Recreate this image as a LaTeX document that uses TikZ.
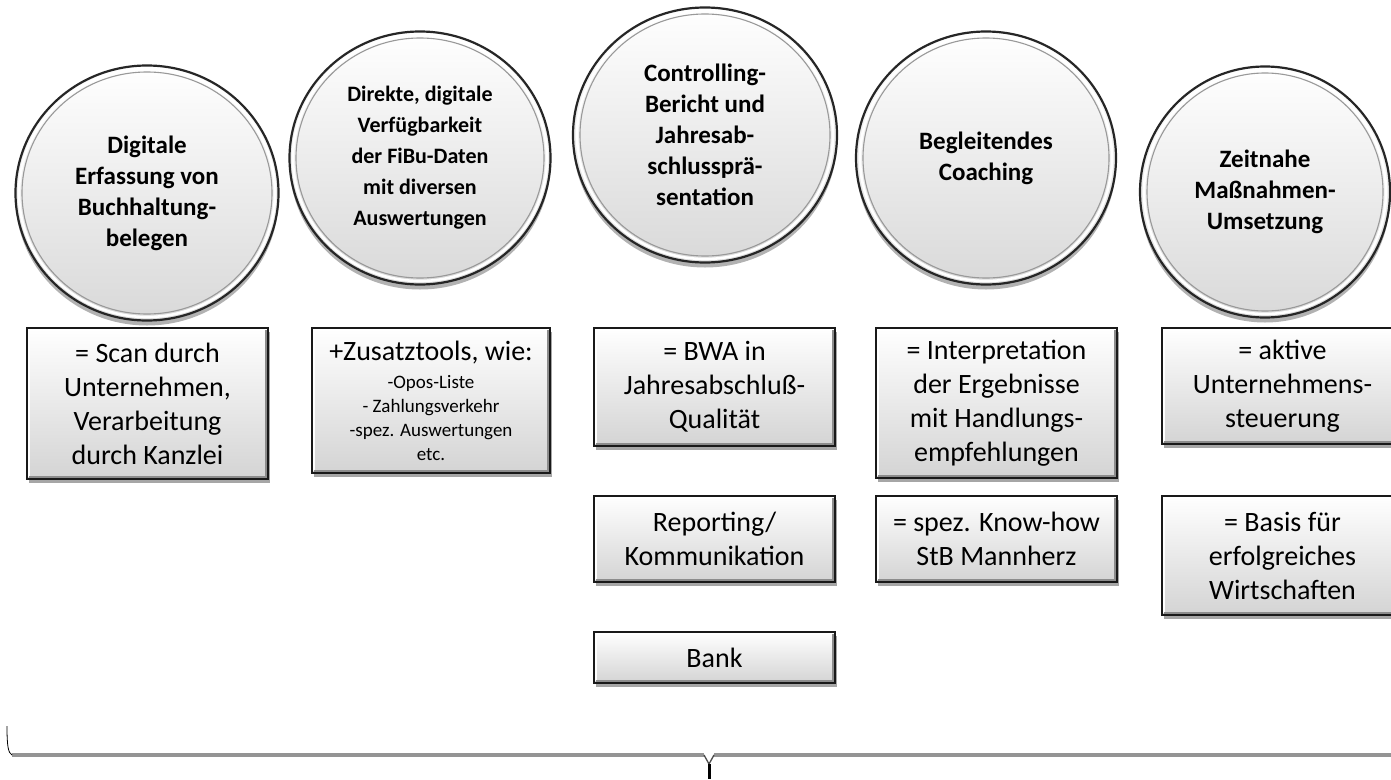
\documentclass[tikz,border=0pt]{standalone}
\usepackage{fontspec}
\setmainfont{Carlito}
\usetikzlibrary{shapes.geometric,shadows,calc}
\tikzset{
  circ/.style={ellipse, inner sep=0pt, draw=black!85, line width=2.2pt,
    top color=white, bottom color=black!15, align=center,
    font=\bfseries\fontsize{25}{31}\selectfont,
    drop shadow={shadow xshift=0pt, shadow yshift=-5pt, opacity=0.3, fill=black}},
  boxnode/.style={rectangle, draw=black!90, line width=2.4pt,
    top color=white, bottom color=black!17, minimum width=241pt,
    align=center, inner sep=0pt, font=\fontsize{28}{34}\selectfont,
    drop shadow={shadow xshift=2pt, shadow yshift=-4pt, opacity=0.35, fill=black}},
  ringwhite/.style={white, line width=2.6pt},
  ringgray/.style={black!40, line width=1.1pt},
  bevdark/.style={black!45, line width=1.6pt},
  bevlight/.style={white, line width=1.6pt},
  bracegray/.style={black!42, line width=3.3pt},
  braceblack/.style={black, line width=0.8pt}
}
\begin{document}
\begin{tikzpicture}[x=1pt,y=-1pt]
\useasboundingbox (0,0) rectangle (1391,779);
\fill[white] (0,0) rectangle (1391,779);

% circles
\node[circ, minimum width=263pt, minimum height=255pt] (c1) at (147,193)
  {Digitale\\Erfassung von\\Buchhaltung-\\belegen};
\node[circ, minimum width=261pt, minimum height=253pt,
      font=\bfseries\fontsize{22}{31}\selectfont] (c2) at (420,158)
  {Direkte, digitale\\Verfügbarkeit\\der FiBu-Daten\\mit diversen\\Auswertungen};
\node[circ, minimum width=264pt, minimum height=255pt] (c3) at (705,135)
  {Controlling-\\Bericht und\\Jahresab-\\schlussprä-\\sentation};
\node[circ, minimum width=260pt, minimum height=253pt] (c4) at (986,158)
  {Begleitendes\\Coaching};
\node[circ, minimum width=250pt, minimum height=251pt] (c5) at (1265,192)
  {Zeitnahe\\Maßnahmen-\\Umsetzung};

\foreach \n/\rx/\ry in {c1/125/121, c2/124/120, c3/125/121, c4/123/120, c5/118/119}{
  \draw[ringwhite] (\n.center) ellipse [x radius=\rx pt+3pt, y radius=\ry pt+3pt];
  \draw[ringgray] (\n.center) ellipse [x radius=\rx pt, y radius=\ry pt];
}

% boxes
\node[boxnode, minimum height=151pt] (b1) at (147.5,403.5)
  {= Scan durch\\Unternehmen,\\Verarbeitung\\durch Kanzlei};
\node[boxnode, minimum width=238pt, minimum height=145pt,
      font=\fontsize{19}{24}\selectfont] (b2) at (431,400.5)
  {{\fontsize{28}{34}\selectfont +Zusatztools, wie:}\\[4pt]
   -Opos-Liste\\- Zahlungsverkehr\\-spez. Auswertungen\\etc.};
\node[boxnode, minimum height=118pt] (b3a) at (714.5,387)
  {= BWA in\\Jahresabschluß-\\Qualität};
\node[boxnode, minimum height=86pt] (b3b) at (714.5,539)
  {Reporting/\\Kommunikation};
\node[boxnode, minimum height=51pt] (b3c) at (714.5,657.5)
  {Bank};
\node[boxnode, minimum height=150pt] (b4a) at (996.5,403)
  {= Interpretation\\der Ergebnisse\\mit Handlungs-\\empfehlungen};
\node[boxnode, minimum height=86pt] (b4b) at (996.5,539)
  {= spez. Know-how\\StB Mannherz};
\node[boxnode, minimum height=116pt] (b5a) at (1282.5,386)
  {= aktive\\Unternehmens-\\steuerung};
\node[boxnode, minimum height=119pt] (b5b) at (1282.5,555.5)
  {= Basis für\\erfolgreiches\\Wirtschaften};

\foreach \b in {b1,b2,b3a,b3b,b3c,b4a,b4b,b5a,b5b}{
  \draw[bevlight] ($(\b.south west)+(3,-3)$) -- ($(\b.north west)+(3,3)$) -- ($(\b.north east)+(-3,3)$);
  \draw[bevdark] ($(\b.south west)+(3,-3)$) -- ($(\b.south east)+(-3,-3)$) -- ($(\b.north east)+(-3,3)$);
}

% brace
\coordinate (bl0) at (7,726);
\coordinate (bl1) at (12,755);
\coordinate (bm0) at (704,755);
\coordinate (bm1) at (709,764);
\coordinate (bm2) at (714,755);
\coordinate (bt) at (709,779);
\coordinate (br) at (1391,755);
\draw[bracegray] (bl1) -- (bm0);
\draw[bracegray] (bm2) -- (br);
\draw[braceblack] (bl0) .. controls (7,745) and (8,753) .. (bl1);
\draw[black!70, line width=1.3pt] (bm0) -- (bm1) -- (bm2);
\draw[black, line width=3pt] (bm1) -- (bt);
\end{tikzpicture}
\end{document}
